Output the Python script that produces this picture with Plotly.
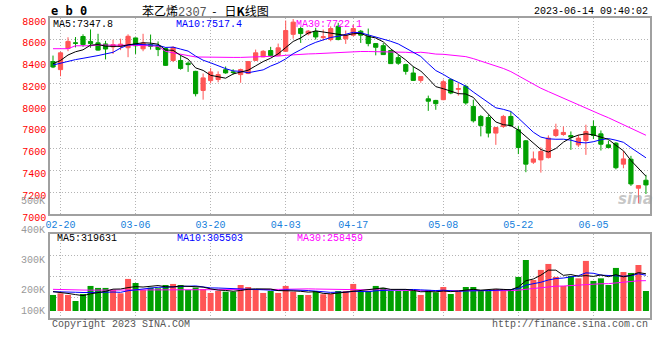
import plotly.graph_objects as go
import pandas as pd

# ---------------- data ----------------
dates = ["02-17",
         "02-20", "02-21", "02-22", "02-23", "02-24",
         "02-27", "02-28", "03-01", "03-02", "03-03",
         "03-06", "03-07", "03-08", "03-09", "03-10",
         "03-13", "03-14", "03-15", "03-16", "03-17",
         "03-20", "03-21", "03-22", "03-23", "03-24",
         "03-27", "03-28", "03-29", "03-30", "03-31",
         "04-03", "04-04", "04-06", "04-07",
         "04-10", "04-11", "04-12", "04-13", "04-14",
         "04-17", "04-18", "04-19", "04-20", "04-21",
         "04-24", "04-25", "04-26", "04-27", "04-28",
         "05-04", "05-05",
         "05-08", "05-09", "05-10", "05-11", "05-12",
         "05-15", "05-16", "05-17", "05-18", "05-19",
         "05-22", "05-23", "05-24", "05-25", "05-26",
         "05-29", "05-30", "05-31", "06-01", "06-02",
         "06-05", "06-06", "06-07", "06-08", "06-09",
         "06-12", "06-13", "06-14"]

open_ = [8400, 8326, 8520, 8572, 8630, 8585, 8572, 8562, 8535, 8540,
         8527, 8617, 8517, 8556, 8545, 8520, 8410, 8410, 8385, 8310,
         8135, 8225, 8235, 8325, 8305, 8280, 8290, 8411, 8443, 8501,
         8457, 8494, 8650, 8703, 8655, 8677, 8620, 8602, 8724, 8609,
         8642, 8679, 8633, 8565, 8546, 8501, 8436, 8372, 8295, 8227,
         8058, 8043, 8050, 8234, 8145, 8172, 7988, 7896, 7886, 7743,
         7804, 7896, 7773, 7672, 7476, 7497, 7518, 7721, 7730, 7721,
         7635, 7675, 7804, 7736, 7635, 7650, 7458, 7503, 7237, 7310]
high = [8455, 8490, 8623, 8625, 8650, 8695, 8655, 8590, 8600, 8610,
        8650, 8620, 8655, 8648, 8585, 8530, 8540, 8455, 8400, 8315,
        8290, 8340, 8310, 8355, 8330, 8335, 8405, 8510, 8505, 8535,
        8565, 8777, 8790, 8720, 8690, 8710, 8694, 8724, 8756, 8685,
        8740, 8690, 8703, 8570, 8570, 8505, 8460, 8380, 8355, 8265,
        8087, 8048, 8234, 8245, 8203, 8188, 8050, 7910, 7910, 7800,
        7910, 7942, 7810, 7680, 7574, 7613, 7722, 7829, 7804, 7758,
        7727, 7820, 7859, 7767, 7675, 7660, 7580, 7534, 7265, 7360]
low = [8340, 8265, 8495, 8530, 8535, 8527, 8500, 8420, 8470, 8505,
       8440, 8470, 8495, 8510, 8450, 8360, 8395, 8325, 8305, 8080,
       8050, 8200, 8209, 8288, 8280, 8205, 8285, 8405, 8440, 8443,
       8450, 8490, 8610, 8571, 8640, 8602, 8593, 8586, 8595, 8562,
       8633, 8571, 8540, 8457, 8460, 8378, 8370, 8280, 8225, 8205,
       7947, 7957, 8045, 8100, 8087, 8004, 7840, 7713, 7703, 7635,
       7790, 7800, 7550, 7384, 7460, 7380, 7510, 7706, 7718, 7589,
       7616, 7543, 7688, 7583, 7605, 7410, 7420, 7258, 7100, 7184]
close = [8350, 8480, 8585, 8568, 8556, 8565, 8505, 8515, 8555, 8560,
         8632, 8545, 8570, 8540, 8510, 8365, 8530, 8337, 8372, 8105,
         8250, 8305, 8280, 8296, 8300, 8326, 8400, 8480, 8494, 8455,
         8526, 8685, 8762, 8657, 8679, 8626, 8628, 8703, 8602, 8642,
         8703, 8642, 8565, 8531, 8464, 8381, 8385, 8310, 8227, 8262,
         8036, 8013, 8215, 8111, 8152, 8020, 7856, 7813, 7743, 7794,
         7896, 7813, 7610, 7458, 7506, 7574, 7697, 7773, 7749, 7706,
         7697, 7758, 7721, 7641, 7610, 7425, 7506, 7276, 7261, 7267]
volume = [137000, 151000, 137000, 85500, 145000, 214000, 197000, 197000, 180000, 151000,
          274000, 239000, 180000, 200000, 194000, 222000, 231000, 222000, 180000, 200000,
          188000, 154000, 171000, 165000, 165000, 222000, 205000, 188000, 154000, 171000,
          154000, 214000, 165000, 137000, 137000, 171000, 143000, 145000, 171000, 171000,
          231000, 171000, 171000, 214000, 197000, 171000, 171000, 171000, 171000, 137000,
          180000, 160000, 205000, 145000, 165000, 205000, 205000, 171000, 171000, 188000,
          188000, 188000, 291000, 436000, 265000, 351000, 402000, 291000, 214000, 299000,
          279000, 428000, 257000, 279000, 222000, 368000, 333000, 325000, 393000, 171000]

# moving-average values at the left edge (their windows start before the chart)
ma5_lead = [8380, 8410, 8460, 8490]
ma10_lead = [8368, 8385, 8405, 8418, 8430, 8440, 8455, 8470, 8485]
ma30_lead = [8518, 8518, 8518, 8545, 8545, 8545, 8552, 8553, 8552, 8550,
             8550, 8548, 8548, 8545, 8540, 8494, 8480, 8465, 8455, 8442,
             8440, 8440, 8440, 8438, 8438, 8438, 8440, 8440, 8442]
vma5_lead = [165000, 160000, 150000, 140000]
vma10_lead = [165000, 165000, 163000, 160000, 158000, 157000, 157000, 160000, 162000]
vma30_lead = [185000, 185000, 185000, 180000, 179000, 178000, 178000, 178000, 178000, 178000,
              178000, 178000, 178000, 178000, 178000, 178000, 178000, 178000, 178000, 178000,
              178000, 179000, 179000, 180000, 180000, 180000, 181000, 181000, 182000]

tick_dates = ["02-20", "03-06", "03-20", "04-03", "04-17", "05-08", "05-22", "06-05"]
vol_labels = ["500K", "400K", "300K", "200K", "100K"]
price_labels = {"MA5": "7347.8", "MA10": "7517.4", "MA30": "7722.1"}
vol_ma_labels = {"MA5": "319631", "MA10": "305503", "MA30": "258459"}

# ---------------- helpers ----------------
def moving_avg(values, n, lead):
    s = pd.Series(values, dtype=float).rolling(n).mean().tolist()
    return list(lead) + s[n - 1:]

UP = "#FF5555"
DOWN = "#00A000"
MONO = "Liberation Mono"
GRID = "#b4b4b4"
FRAME = "#a0a0a0"

ma5 = moving_avg(close, 5, ma5_lead)
ma10 = moving_avg(close, 10, ma10_lead)
ma30 = moving_avg(close, 30, ma30_lead)
vma5 = moving_avg(volume, 5, vma5_lead)
vma10 = moving_avg(volume, 10, vma10_lead)
vma30 = moving_avg(volume, 30, vma30_lead)
vol_colors = [UP if c >= o else DOWN for o, c in zip(open_, close)]

fig = go.Figure()
fig.add_trace(go.Candlestick(
    x=dates, open=open_, high=high, low=low, close=close,
    increasing=dict(line=dict(color=UP, width=1), fillcolor=UP),
    decreasing=dict(line=dict(color=DOWN, width=1), fillcolor=DOWN),
    whiskerwidth=0, xaxis="x", yaxis="y", hoverinfo="skip"))
for vals, col in [(ma30, "#FF00FF"), (ma10, "#0000FF"), (ma5, "#000000")]:
    fig.add_trace(go.Scatter(x=dates, y=vals, mode="lines",
                             line=dict(color=col, width=1), xaxis="x", yaxis="y",
                             hoverinfo="skip"))

fig.add_trace(go.Bar(x=dates, y=volume, marker=dict(color=vol_colors, line=dict(width=0)),
                     width=0.8, xaxis="x2", yaxis="y2", hoverinfo="skip"))
for vals, col in [(vma30, "#FF00FF"), (vma10, "#0000FF"), (vma5, "#000000")]:
    fig.add_trace(go.Scatter(x=dates, y=vals, mode="lines",
                             line=dict(color=col, width=1), xaxis="x2", yaxis="y2",
                             hoverinfo="skip"))

VMIN, VMAX = -60000, 658000
vgrid = [VMIN + q * (VMAX - VMIN) / 4 for q in (1, 2, 3)]

PT, PB = 18, 42          # plot area top / bottom margin (px)
PH = 360 - PT - PB


def py(y):               # pixel row -> paper y
    return (360 - PB - y) / PH


def px(x):               # pixel column -> paper x
    return (x - 50) / 600


common_x = dict(type="category", range=[-0.4, 79.54], tickvals=tick_dates, ticktext=tick_dates,
                showgrid=True, gridcolor=GRID, griddash="1px,2px", gridwidth=1,
                showline=True, mirror=True, linecolor=FRAME, linewidth=1.5, ticks="",
                zeroline=False)

fig.update_layout(
    width=660, height=360,
    margin=dict(l=50, r=10, t=PT, b=PB, autoexpand=False),
    paper_bgcolor="white", plot_bgcolor="white",
    showlegend=False, hovermode=False, boxgap=0.2,
    xaxis=dict(**common_x, domain=[0, 1], anchor="y",
               tickfont=dict(family=MONO, size=10, color="#1580dc"),
               rangeslider=dict(visible=False)),
    yaxis=dict(domain=[py(214), 1], range=[7000, 8800], tick0=7000, dtick=200,
               showgrid=True, gridcolor=GRID, griddash="1px,2px", gridwidth=1,
               showline=True, mirror=True, linecolor=FRAME, linewidth=1.5, ticks="",
               zeroline=False, ticklabelshift=3,
               tickfont=dict(family=MONO, size=10, color="#ff0000")),
    xaxis2=dict(**common_x, domain=[0, 1], anchor="y2", matches="x", showticklabels=False),
    yaxis2=dict(domain=[0, py(234)], range=[VMIN, VMAX], tickvals=vgrid,
                showticklabels=False, showgrid=True, gridcolor=GRID, griddash="1px,2px",
                gridwidth=1, showline=True, mirror=True, linecolor=FRAME, linewidth=1.5,
                ticks="", zeroline=False),
)

ann = []


def text(x, y, s, color="#000", size=10, anchor="left", family=MONO, **kw):
    ann.append(dict(x=px(x), y=py(y), xref="paper", yref="paper", text=s, showarrow=False,
                    xanchor=anchor, yanchor="middle", font=dict(family=family, size=size,
                                                                color=color, **kw)))


text(49, 11, "<b>e b 0</b>", size=12, family="DejaVu Sans Mono")
text(140, 11, "苯乙烯<span style='font-family:Liberation Mono;color:#555'>2307</span>"
              "&nbsp;&nbsp;-&nbsp;&nbsp;&nbsp;日<b>K</b>线图", size=12, family="Noto Sans CJK SC")
text(650, 12, "2023-06-14 09:40:02", anchor="right")

text(51, 24, "MA5:" + price_labels["MA5"], color="#000000")
text(174, 24, "MA10:" + price_labels["MA10"], color="#0000FF")
text(294, 24, "MA30:" + price_labels["MA30"], color="#FF00FF")

text(55, 238, "MA5:" + vol_ma_labels["MA5"], color="#000000")
text(175, 238, "MA10:" + vol_ma_labels["MA10"], color="#0000FF")
text(295, 238, "MA30:" + vol_ma_labels["MA30"], color="#FF00FF")

for lab, yy in zip(vol_labels, [201, 230, 260, 290, 311]):
    text(47, yy, lab, color="#999999", anchor="right")

text(50, 324, "Copyright 2023 SINA.COM", color="#555555")
text(650, 324, "http://finance.sina.com.cn", color="#555555", anchor="right")
text(635, 199, "<b>sina</b>", color="rgba(150,150,150,0.55)", size=15,
     family="DejaVu Sans", anchor="center", style="italic")

fig.update_layout(annotations=ann)
fig.write_html("out.html", config={"displayModeBar": False},
               post_script="document.body.style.margin='0';")
